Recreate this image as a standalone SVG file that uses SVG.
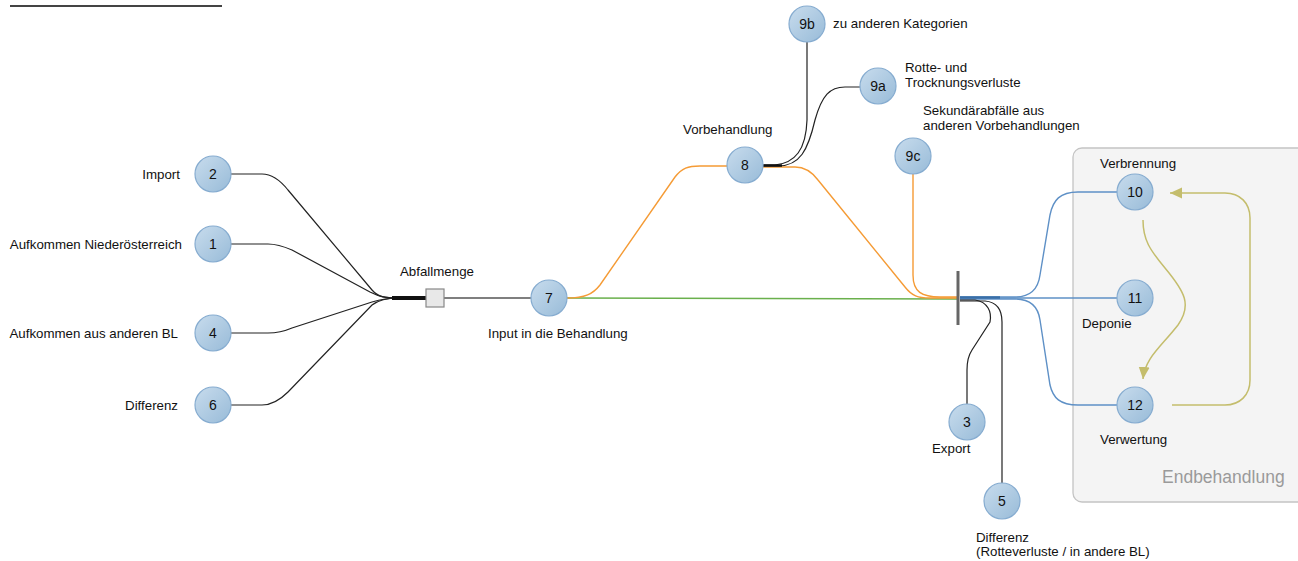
<svg xmlns="http://www.w3.org/2000/svg" width="1298" height="561" viewBox="0 0 1298 561">
<style>
text{font-family:"Liberation Sans",Arial,sans-serif;font-size:13.3px;fill:#111}
.num{font-size:14px;text-anchor:middle}
.nd{fill:url(#g);stroke:#86acd0;stroke-width:1.2}
.k{fill:none;stroke:#222;stroke-width:1.2}
.o{fill:none;stroke:#f59b35;stroke-width:1.4}
.b{fill:none;stroke:#5e90c6;stroke-width:1.4}
.y{fill:none;stroke:#c4bd6c;stroke-width:1.5}
</style>
<defs>
<linearGradient id="g" x1="0" y1="0" x2="1" y2="1">
<stop offset="0" stop-color="#c8dced"/>
<stop offset="1" stop-color="#98bbd8"/>
</linearGradient>
<marker id="ah" markerUnits="userSpaceOnUse" markerWidth="14" markerHeight="14" viewBox="0 0 14 14" refX="12" refY="7" orient="auto">
<path d="M0,1.5 L12,7 L0,12.5 Z" fill="#c4bd6c"/>
</marker>
</defs>
<line x1="10" y1="6" x2="222" y2="6" stroke="#444" stroke-width="2"/>
<g id="endbehandlung">
<rect x="1073" y="148" width="245" height="354" rx="9" fill="#f4f4f4" stroke="#c4c4c4" stroke-width="1.3"/>
<text x="1162" y="483" style="font-size:17.5px;fill:#9a9a9a">Endbehandlung</text>
</g>
<g id="connectors">
<path class="k" d="M231,174 H262 C272,174 280,180 288,190 L372,290 C378,297 385,298 398,298"/>
<path class="k" d="M231,244 H268 C278,244 285,247 292,250 L370,292 C380,297 385,298 398,298"/>
<path class="k" d="M231,333 H268 C278,333 285,331 292,328 L372,302 C382,299 388,298 398,298"/>
<path class="k" d="M231,405 H262 C272,405 280,400 288,392 L372,305 C380,299 388,298 398,298"/>
<line x1="392" y1="298" x2="427" y2="298" stroke="#111" stroke-width="4"/>
<line x1="444" y1="298" x2="532" y2="298" stroke="#555" stroke-width="1.4"/>
<path d="M567,298 L957,299" fill="none" stroke="#6ab04c" stroke-width="1.4"/>
<path class="o" d="M567,298 C585,298 593,294 600,285 L675,177 C682,168 688,166 700,166 H727"/>
<path class="o" d="M763,167 H795 C805,167 812,172 818,180 L905,287 C912,296 918,298 930,298 H957"/>
<path class="o" d="M913,174 V275 C913,292 922,297 940,297 H957"/>
<path class="k" d="M764,165 H775 C795,163 806,150 807,120 V42"/>
<path class="k" d="M764,166 H778 C800,166 808,150 815,120 C822,95 830,87 845,87 H860"/>
<line x1="763" y1="165.5" x2="782" y2="165.5" stroke="#111" stroke-width="2.5"/>
<line x1="958" y1="271" x2="958" y2="325" stroke="#666" stroke-width="3"/>
<path class="b" d="M960,297 H1015 C1030,297 1038,290 1040,275 L1050,215 C1053,200 1060,192 1078,192 H1117"/>
<path class="b" d="M960,298 H1117"/>
<path class="b" d="M960,299 H1015 C1030,299 1038,306 1040,320 L1050,385 C1053,398 1060,405 1078,405 H1117"/>
<line x1="960" y1="297.5" x2="1000" y2="297.5" stroke="#3a6fa8" stroke-width="2.5"/>
<path class="k" d="M960,300 H975 C988,302 992,312 990,322 L972,350 C968,356 967,362 967,370 V404"/>
<path class="k" d="M960,301 H985 C997,302 1002,310 1002,322 V483"/>
<path class="y" d="M1143,220 C1143,240 1150,250 1165,268 C1185,292 1192,305 1178,325 C1160,348 1145,358 1143,379" marker-end="url(#ah)"/>
<path class="y" d="M1172,405 H1225 C1240,405 1250,395 1250,380 V218 C1250,203 1240,193 1225,193 H1170" marker-end="url(#ah)"/>
</g>
<g id="n2"><circle class="nd" cx="213" cy="174" r="18"/><text class="num" x="213" y="179">2</text><text x="180" y="179" text-anchor="end">Import</text></g>
<g id="n1"><circle class="nd" cx="213" cy="244" r="18"/><text class="num" x="213" y="249">1</text><text x="182" y="249" text-anchor="end">Aufkommen Niederösterreich</text></g>
<g id="n4"><circle class="nd" cx="213" cy="333" r="18"/><text class="num" x="213" y="338">4</text><text x="178" y="338" text-anchor="end">Aufkommen aus anderen BL</text></g>
<g id="n6"><circle class="nd" cx="213" cy="405" r="18"/><text class="num" x="213" y="410">6</text><text x="178" y="410" text-anchor="end">Differenz</text></g>
<g id="abfallmenge"><rect x="426" y="289" width="18" height="18" fill="#e8e8e8" stroke="#888" stroke-width="1.2"/><text x="400" y="276">Abfallmenge</text></g>
<g id="n7"><circle class="nd" cx="549" cy="298" r="18"/><text class="num" x="549" y="303">7</text><text x="488" y="338">Input in die Behandlung</text></g>
<g id="n8"><circle class="nd" cx="745" cy="165" r="18"/><text class="num" x="745" y="170">8</text><text x="683" y="134">Vorbehandlung</text></g>
<g id="n9b"><circle class="nd" cx="807" cy="24" r="18"/><text class="num" x="807" y="29">9b</text><text x="833" y="28">zu anderen Kategorien</text></g>
<g id="n9a"><circle class="nd" cx="878" cy="86" r="18"/><text class="num" x="878" y="91">9a</text><text x="905" y="72">Rotte- und</text><text x="905" y="87">Trocknungsverluste</text></g>
<g id="n9c"><circle class="nd" cx="913" cy="156" r="18"/><text class="num" x="913" y="161">9c</text><text x="923" y="115">Sekundärabfälle aus</text><text x="923" y="130">anderen Vorbehandlungen</text></g>
<g id="n10"><circle class="nd" cx="1135" cy="192" r="18"/><text class="num" x="1135" y="197">10</text><text x="1100" y="168">Verbrennung</text></g>
<g id="n11"><circle class="nd" cx="1135" cy="298" r="18"/><text class="num" x="1135" y="303">11</text><text x="1082" y="328">Deponie</text></g>
<g id="n12"><circle class="nd" cx="1135" cy="405" r="18"/><text class="num" x="1135" y="410">12</text><text x="1100" y="444">Verwertung</text></g>
<g id="n3"><circle class="nd" cx="967" cy="422" r="18"/><text class="num" x="967" y="427">3</text><text x="932" y="453">Export</text></g>
<g id="n5"><circle class="nd" cx="1002" cy="501" r="18"/><text class="num" x="1002" y="506">5</text><text x="976" y="542">Differenz</text><text x="976" y="556">(Rotteverluste / in andere BL)</text></g>
</svg>
